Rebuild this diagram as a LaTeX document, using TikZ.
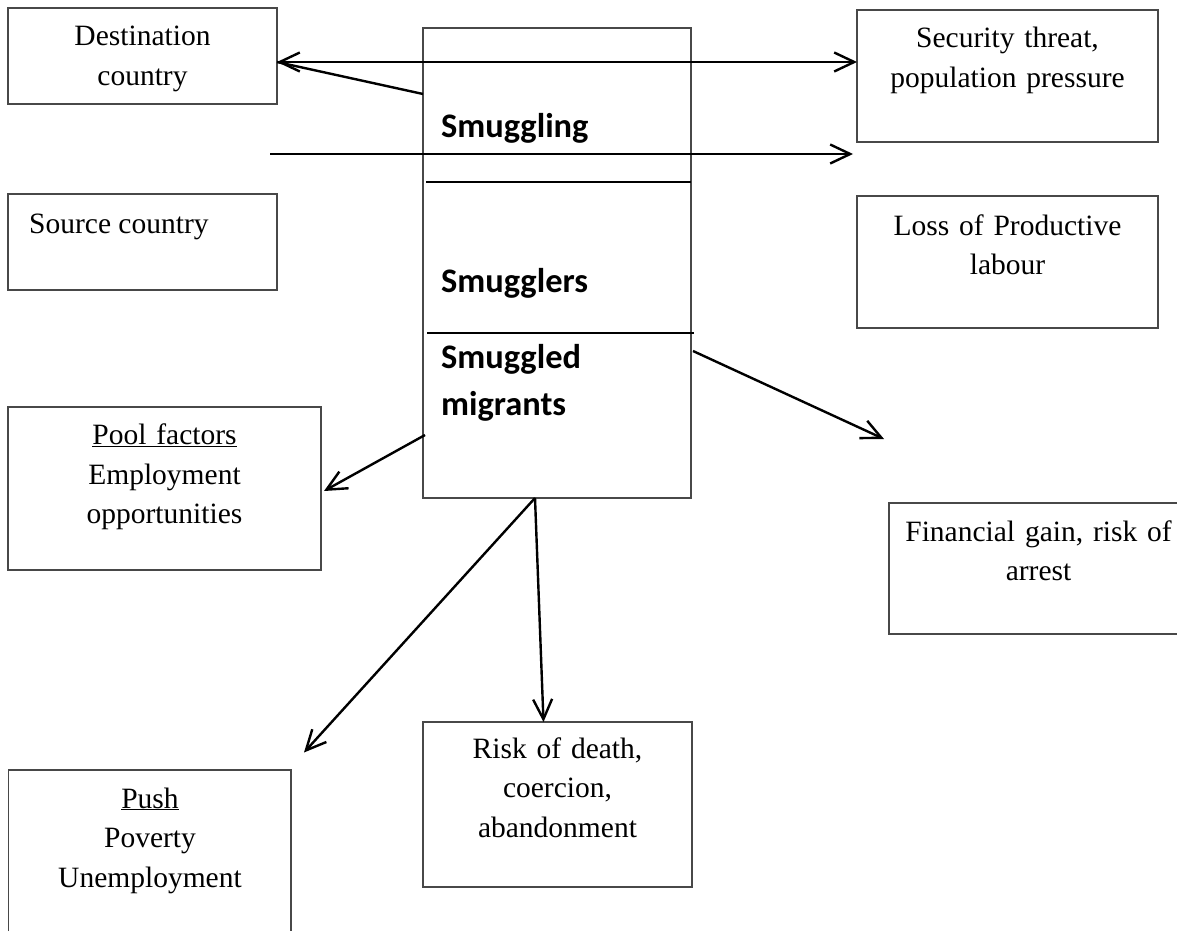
\documentclass[tikz,border=0pt]{standalone}
\usepackage{fontspec}
\setmainfont{Liberation Serif}
\newfontfamily\calibri{Carlito}
\usetikzlibrary{arrows.meta}
\definecolor{boxgray}{RGB}{72,72,72}
\tikzset{barb/.tip={Straight Barb[length=20pt,width=19pt]}}
\begin{document}
\begin{tikzpicture}[x=1pt,y=-1pt,
  boxst/.style={draw=boxgray,line width=1.5pt,inner sep=0pt},
  conn/.style={line width=2.4pt,black},
  divider/.style={line width=2.2pt,black},
  txt/.style={font=\fontsize{29.5}{39.5}\selectfont,inner sep=0pt,align=center,text width=360pt,anchor=base},
  txtl/.style={font=\fontsize{29.5}{39.5}\selectfont,inner sep=0pt,anchor=base west},
  bld/.style={font=\calibri\bfseries\fontsize{34.4}{47}\selectfont,inner sep=0pt,anchor=base west,text width=240pt,align=left}]
\useasboundingbox (0,0) rectangle (1177,931);
% boxes
\node[boxst,minimum width=269pt,minimum height=96pt] (dest) at (142.5,56) {};
\node[boxst,minimum width=269pt,minimum height=96pt] (src) at (142.5,242) {};
\node[boxst,minimum width=301pt,minimum height=132pt] (sec) at (1007.5,76) {};
\node[boxst,minimum width=301pt,minimum height=132pt] (loss) at (1007.5,262) {};
\node[boxst,minimum width=313pt,minimum height=163pt] (pool) at (164.5,488.5) {};
\node[boxst,minimum width=269pt,minimum height=165pt] (risk) at (557.5,804.5) {};
\node[boxst,minimum width=268pt,minimum height=470pt] (cen) at (557,263) {};
% boxes cut by the page edge
\coordinate (finA) at (1177,503);
\coordinate (finB) at (889,503);
\coordinate (finC) at (889,634);
\coordinate (finD) at (1177,634);
\draw[draw=boxgray,line width=1.5pt] (finA) -- (finB) -- (finC) -- (finD);
\coordinate (pushA) at (8.6,931);
\coordinate (pushB) at (8.6,770);
\coordinate (pushC) at (291,770);
\coordinate (pushD) at (291,931);
\draw[draw=boxgray,line width=1.5pt] (pushA) -- (pushB) -- (pushC) -- (pushD);
% dividers in the central box
\coordinate (d1a) at (426,182);
\coordinate (d1b) at (691,182);
\coordinate (d2a) at (427,333);
\coordinate (d2b) at (694,333);
\draw[divider] (d1a) -- (d1b);
\draw[divider] (d2a) -- (d2b);
% texts
\node[txt] (tdest) at (142.5,46) {Destination\\country};
\node[txtl] (tsrc) at (29,233) {Source country};
\node[txt] (tsec) at (1007.5,48) {Security threat,\\population pressure};
\node[txt] (tloss) at (1007.5,235) {Loss of Productive\\labour};
\node[txt] (tpool) at (164.5,444.5) {\underline{Pool factors}\\Employment\\opportunities};
\node[txt] (tpush) at (150,808) {\underline{Push}\\Poverty\\Unemployment};
\node[txt] (trisk) at (557.5,758) {Risk of death,\\coercion,\\abandonment};
\node[txt] (tfin) at (1038.5,541) {Financial gain, risk of\\arrest};
\node[bld] (tsmg) at (441,138) {Smuggling};
\node[bld] (tsmgs) at (441,292) {Smugglers};
\node[bld] (tmig) at (441,368) {Smuggled\\migrants};
% connectors
\coordinate (dE) at (277,62);
\coordinate (sW) at (857,62);
\coordinate (cW1) at (423,94);
\coordinate (lstart) at (270,154);
\coordinate (lend) at (853,154);
\coordinate (cE) at (693,351);
\coordinate (fintip) at (884,439);
\coordinate (cW2) at (425,435);
\coordinate (pooltip) at (324,491);
\coordinate (cS) at (535,498);
\coordinate (pushtip) at (304,752.5);
\coordinate (risktip) at (543.5,722);
\draw[conn,barb-barb] (dE) -- (sW);
\draw[conn] (cW1) -- (dE);
\draw[conn,-barb] (lstart) -- (lend);
\draw[conn,-barb] (cE) -- (fintip);
\draw[conn,-barb] (cW2) -- (pooltip);
\draw[conn,-barb] (cS) -- (pushtip);
\draw[conn,-barb] (cS) -- (risktip);
\end{tikzpicture}
\end{document}
